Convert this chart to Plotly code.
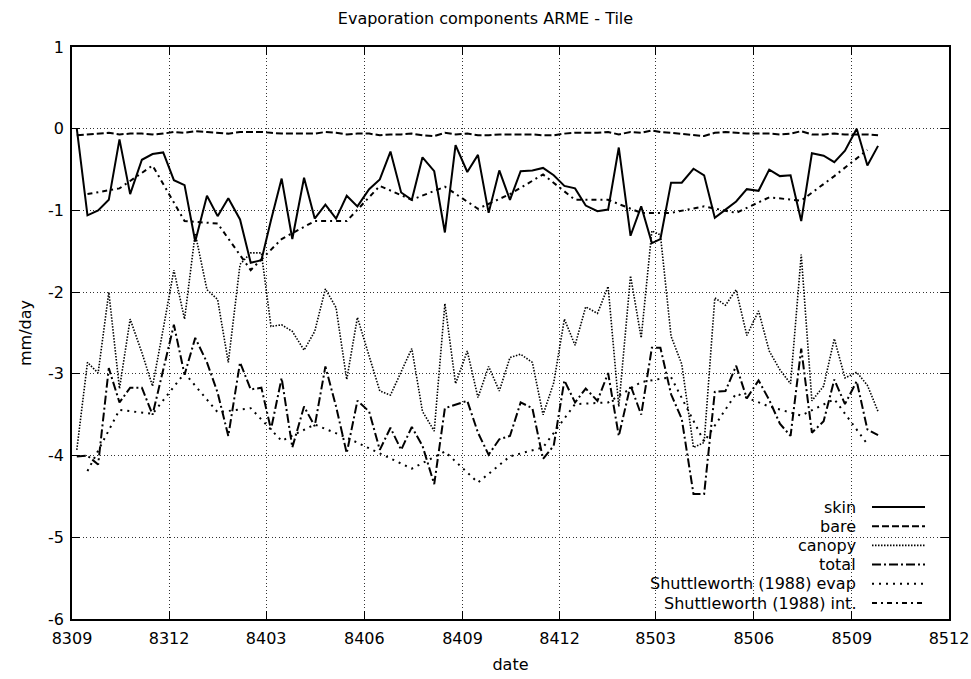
import pandas as pd
import plotly.graph_objects as go

# ---- data: ten-day (dekad) means, Sep 1983 - Sep 1985, mm/day ----
start_month = "1983-09-01"
end_month = "1985-09-01"

skin = [0.00, -1.06, -1.00, -0.87, -0.13, -0.80, -0.38, -0.31, -0.29, -0.63,
        -0.69, -1.38, -0.82, -1.07, -0.85, -1.11, -1.64, -1.61, -1.12, -0.61,
        -1.35, -0.60, -1.10, -0.93, -1.10, -0.82, -0.95, -0.74, -0.62, -0.28,
        -0.78, -0.87, -0.35, -0.52, -1.27, -0.20, -0.53, -0.32, -1.03, -0.51,
        -0.87, -0.52, -0.51, -0.48, -0.57, -0.70, -0.73, -0.94, -1.01, -0.99,
        -0.23, -1.31, -0.95, -1.40, -1.35, -0.66, -0.66, -0.49, -0.57, -1.09,
        -0.99, -0.89, -0.74, -0.76, -0.50, -0.58, -0.57, -1.13, -0.30, -0.33,
        -0.41, -0.27, 0.00, -0.45, -0.21]

bare = [-0.08, -0.07, -0.06, -0.05, -0.07, -0.06, -0.06, -0.07, -0.06, -0.04,
        -0.05, -0.03, -0.04, -0.05, -0.06, -0.04, -0.04, -0.04, -0.05, -0.06,
        -0.06, -0.06, -0.06, -0.04, -0.05, -0.07, -0.06, -0.06, -0.08, -0.07,
        -0.07, -0.06, -0.08, -0.09, -0.05, -0.07, -0.06, -0.08, -0.08, -0.07,
        -0.07, -0.07, -0.07, -0.08, -0.08, -0.06, -0.05, -0.05, -0.05, -0.04,
        -0.07, -0.04, -0.05, -0.02, -0.04, -0.05, -0.06, -0.08, -0.09, -0.05,
        -0.04, -0.05, -0.06, -0.06, -0.06, -0.07, -0.06, -0.03, -0.07, -0.07,
        -0.06, -0.07, -0.07, -0.07, -0.08]

canopy = [-3.93, -2.86, -2.99, -2.00, -3.18, -2.33, -2.74, -3.15, -2.45, -1.73,
          -2.33, -1.28, -1.97, -2.09, -2.86, -1.66, -1.52, -1.52, -2.42, -2.40,
          -2.48, -2.71, -2.48, -1.96, -2.19, -3.07, -2.31, -2.78, -3.21, -3.26,
          -2.97, -2.69, -3.46, -3.70, -2.14, -3.12, -2.72, -3.29, -2.91, -3.21,
          -2.80, -2.76, -2.86, -3.50, -3.11, -2.33, -2.65, -2.18, -2.26, -1.93,
          -3.40, -1.80, -2.56, -1.25, -1.30, -2.54, -2.88, -3.90, -3.84, -2.07,
          -2.16, -1.97, -2.53, -2.23, -2.72, -2.95, -3.12, -1.54, -3.33, -3.15,
          -2.57, -3.05, -2.98, -3.14, -3.46]

total = [-4.01, -4.00, -4.11, -2.93, -3.35, -3.17, -3.17, -3.50, -2.95, -2.40,
         -3.01, -2.56, -2.86, -3.23, -3.76, -2.86, -3.19, -3.17, -3.68, -3.05,
         -3.90, -3.40, -3.64, -2.91, -3.40, -3.97, -3.33, -3.46, -3.93, -3.66,
         -3.93, -3.65, -3.88, -4.35, -3.42, -3.38, -3.33, -3.72, -3.99, -3.80,
         -3.76, -3.35, -3.42, -4.04, -3.88, -3.08, -3.35, -3.18, -3.33, -2.99,
         -3.76, -3.14, -3.50, -2.68, -2.68, -3.25, -3.55, -4.47, -4.47, -3.22,
         -3.21, -2.90, -3.30, -3.08, -3.32, -3.61, -3.76, -2.69, -3.72, -3.58,
         -3.07, -3.37, -3.09, -3.68, -3.75]

# ---- monthly values from Shuttleworth (1988), mm/day ----
shuttle_evap = [-4.19, -3.44, -3.49, -2.99, -3.47, -3.42, -3.82, -3.62, -3.78,
                -3.97, -4.16, -3.95, -4.33, -4.01, -3.90, -3.37, -3.35, -3.10,
                -3.04, -3.83, -3.24, -3.40, -3.51, -3.31, -3.86]

shuttle_int = [-0.80, -0.73, -0.45, -1.13, -1.16, -1.73, -1.35, -1.13, -1.13,
               -0.70, -0.87, -0.71, -0.98, -0.80, -0.56, -0.87, -0.87, -1.03,
               -1.03, -0.95, -1.03, -0.84, -0.88, -0.58, -0.26]

y_ticks = [-6, -5, -4, -3, -2, -1, 0, 1]
y_tick_text = ["-6", "-5", "-4", "-3", "-2", "-1", "0", "1"]

months = pd.date_range(start_month, end_month, freq="MS")
dekad_dates = [m + pd.Timedelta(days=d) for m in months for d in (4.5, 14.5, 24.5)]
monthly_dates = [m + pd.Timedelta(days=14.5) for m in months]

# ---- figure geometry (pixels) ----
W, H = 971, 679
L, R, T, B = 72, 22, 47, 60
PW, PH = W - L - R, H - T - B
FONT = "DejaVu Sans"
FS = 16


def px(x):
    return (x - L) / PW


def py(y):
    return (H - B - y) / PH


series = [
    ("skin", dekad_dates, skin, "solid", 2.0),
    ("bare", dekad_dates, bare, "7px,3px", 2.0),
    ("canopy", dekad_dates, canopy, "1.5px,1.5px", 1.6),
    ("total", dekad_dates, total, "9px,3px,2px,3px", 2.0),
    ("Shuttleworth (1988) evap", monthly_dates, shuttle_evap, "2px,5px", 2.0),
    ("Shuttleworth (1988) int.", monthly_dates, shuttle_int, "5px,4px,2px,4px", 2.0),
]

fig = go.Figure()
for name, xs, ys, dash, w in series:
    fig.add_trace(go.Scatter(
        x=xs, y=ys, name=name, mode="lines",
        line=dict(color="black", width=w, dash=dash),
        showlegend=False,
    ))

# key: opaque box in the lower-right corner, right-aligned labels, line samples
shapes = [dict(type="rect", xref="paper", yref="paper", layer="between",
               x0=px(582), x1=px(937), y0=py(496), y1=0,
               fillcolor="white", line=dict(width=0))]
annotations = []
row_y0, row_dy = 507, 19.2
for i, (name, _, _, dash, w) in enumerate(series):
    yy = row_y0 + i * row_dy
    annotations.append(dict(
        text=name, xref="paper", yref="paper", x=px(858), y=py(yy),
        xanchor="right", yanchor="middle", showarrow=False,
        font=dict(family=FONT, size=FS, color="black")))
    shapes.append(dict(type="line", xref="paper", yref="paper", layer="above",
                       x0=px(872), x1=px(925), y0=py(yy), y1=py(yy),
                       line=dict(color="black", width=w, dash=dash)))

axis_common = dict(
    showline=True, linecolor="black", linewidth=1.5, mirror="allticks",
    ticks="inside", ticklen=8, tickcolor="black", tickwidth=1,
    showgrid=True, gridcolor="#333333", griddash="1px,2.5px", gridwidth=1,
    zeroline=False,
    tickfont=dict(family=FONT, size=FS, color="black"),
)

fig.update_layout(
    width=W, height=H,
    margin=dict(l=L, r=R, t=T, b=B, autoexpand=False),
    paper_bgcolor="white", plot_bgcolor="white",
    title=dict(text="Evaporation components ARME - Tile", x=0.5, xanchor="center",
               y=1 - 18 / H, yanchor="middle", yref="container",
               font=dict(family=FONT, size=FS, color="black")),
    xaxis=dict(
        type="date", range=["1983-09-01", "1985-12-01"],
        tick0="1983-09-01", dtick="M3", tickformat="%y%m",
        ticklabelstandoff=4,
        title=dict(text="date", standoff=12,
                   font=dict(family=FONT, size=FS, color="black")),
        **axis_common),
    yaxis=dict(
        range=[-6, 1], tickvals=y_ticks, ticktext=y_tick_text,
        ticklabelstandoff=3,
        title=dict(text="mm/day", standoff=12,
                   font=dict(family=FONT, size=FS, color="black")),
        **axis_common),
    shapes=shapes,
    annotations=annotations,
    showlegend=False,
)

fig.write_html("out.html")
